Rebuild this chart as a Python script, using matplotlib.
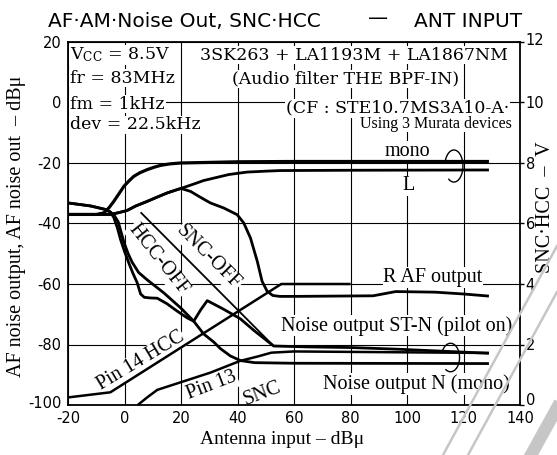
import matplotlib
matplotlib.use("Agg")
import matplotlib.pyplot as plt
from matplotlib.patches import Arc
from matplotlib.lines import Line2D
from matplotlib.transforms import ScaledTranslation

plt.rcParams['axes.unicode_minus'] = False
plt.rcParams['mathtext.fontset'] = 'dejavuserif'

# ---------------- data ----------------
x_ticks = [-20, 0, 20, 40, 60, 80, 100, 120, 140]
y_ticks = [-100, -80, -60, -40, -20, 0, 20]
v_ticks = [0, 2, 4, 6, 8, 10, 12]

# AF output, mono (dBu)
mono_x = [-20, -10, -7.3, -5.5, -3.8, -2, -0.2, 1.5, 3.3, 5.5, 8, 10.5, 12.7, 16, 19.8, 30, 40, 60, 129]
mono_y = [-37, -37, -36.5, -34.8, -32.7, -30.2, -27.7, -26, -24.4, -23.2, -22.2, -21.4, -20.8, -20.3, -20, -19.8, -19.6, -19.5, -19.5]

# AF output, L (dBu)
L_x = [-20, -8, -5, -2, 0.9, 4, 8, 11.5, 15.1, 18, 20, 25, 28, 31.6, 37, 43.4, 50, 55.2, 80, 129]
L_y = [-37, -37, -37, -36.4, -35.7, -34.2, -32.7, -31.3, -29.9, -29, -28.4, -26.8, -25.8, -25, -23.8, -23, -22.7, -22.5, -22.4, -22.3]

# R AF output (dBu)
R_x = [-20, -8, -5, -2, 0.9, 4, 8, 11.5, 15.1, 18, 20, 23.4, 27, 30.4, 35.2, 39.9, 42.2, 44.6,
       47, 48.7, 50.5, 52.5, 55, 60, 88, 92, 96, 110, 120, 129]
R_y = [-37, -37, -37, -36.4, -35.7, -34.2, -32.7, -31.3, -29.9, -29, -28.4, -29.4, -31.4, -33.2, -34.9, -37.1, -39.8, -44.8,
       -52.5, -59.1, -62.4, -63.8, -64.1, -64.1, -63.9, -63.2, -62.5, -62.7, -63.3, -64]

# Noise output ST-N (pilot on) (dBu)
stn_x = [-20, -12, -7, -5, -3.8, -2.5, -1.4, 0, 1.5, 3, 4.5, 5.7, 7, 9, 11.6, 15, 18.7, 22.2, 24.5,
         27, 29.3, 35, 41, 46, 52.8, 65, 80, 98, 129]
stn_y = [-33.2, -34.2, -35.3, -36.2, -38, -41.5, -45.3, -49.2, -53, -56.5, -59.6, -63.3, -64.4, -64.6, -64.7, -66.5, -69, -71.2, -72.3,
         -68.5, -65.5, -68.3, -71.5, -75.5, -80.5, -80.8, -81, -81.6, -82.9]

# Noise output N (mono) (dBu)
nm_x = [-20, -12, -7, -5, -3.5, -2.2, -0.2, 1.3, 2.7, 5, 8, 11, 14, 17, 20, 24.5, 28, 31.6, 34, 37.5, 41, 46, 60, 129]
nm_y = [-33.2, -34.2, -35.3, -36.2, -37.5, -39.5, -46.2, -50, -52.8, -56.2, -58.6, -60.8, -63, -65.5, -68, -72.3,
        -76.5, -79.2, -81.4, -83.8, -85.3, -86, -86.2, -86.3]

# SNC-OFF noise (dBu)
sncoff_x = [5.7, 52.8]
sncoff_y = [-36.3, -80.5]

# Pin voltages (V, right axis)
pin14_x = [-20, -5, 55.5, 80]
pin14_v = [0.25, 0.42, 4.0, 4.0]
pin13_x = [4.7, 8, 11.6, 30.4, 41, 47, 52, 60, 129]
pin13_v = [0.0, 0.25, 0.5, 1.07, 1.46, 1.6, 1.73, 1.77, 1.72]

# ---------------- figure ----------------
W, H = 557, 455
fig = plt.figure(figsize=(W / 100, H / 100), dpi=100)
ax = fig.add_axes([68 / W, (H - 405) / H, (520 - 68) / W, (405 - 42) / H])
ax.set_xlim(-20, 140)
ax.set_ylim(-100, 20)
ax.set_xticks(x_ticks)
ax.set_yticks(y_ticks)
ax.set_xticklabels([str(v) for v in x_ticks])
ax.set_yticklabels([str(v) for v in y_ticks])
ax.grid(True, color='black', lw=0.8)
ax.tick_params(axis='both', length=0, labelsize=10.5, pad=4.5)
for lbl in ax.get_xticklabels() + ax.get_yticklabels():
    lbl.set_family('DejaVu Sans')
for sp in ax.spines.values():
    sp.set_linewidth(1.3)
# the bottom-left "-100" sits a little above its line, as in the reference
ylbls = ax.get_yticklabels()
ylbls[0].set_transform(ylbls[0].get_transform() + ScaledTranslation(0, 3 / 100, fig.dpi_scale_trans))

ax2 = ax.twinx()
ax2.set_ylim(0, 12)
ax2.set_yticks(v_ticks)
ax2.set_yticklabels([str(v) for v in v_ticks])
ax2.tick_params(axis='y', direction='out', length=3, width=1, labelsize=10.5, pad=1)
for sp in ax2.spines.values():
    sp.set_visible(False)
vlbls = ax2.get_yticklabels()
vlbls[0].set_transform(vlbls[0].get_transform() + ScaledTranslation(0, 6 / 100, fig.dpi_scale_trans))
vlbls[-1].set_transform(vlbls[-1].get_transform() + ScaledTranslation(0, 3 / 100, fig.dpi_scale_trans))

lk = dict(color='black', lw=2.0, solid_joinstyle='round', solid_capstyle='butt', zorder=2.5)
ax.plot(mono_x, mono_y, **dict(lk, lw=2.3))
ax.plot(L_x, L_y, **lk)
ax.plot(R_x, R_y, **lk)
ax.plot(stn_x, stn_y, **lk)
ax.plot(nm_x, nm_y, **lk)
ax.plot(sncoff_x, sncoff_y, **dict(lk, lw=1.3))
ax2.plot(pin14_x, pin14_v, **dict(lk, lw=1.8))
ax2.plot(pin13_x, pin13_v, **dict(lk, lw=1.8))

# brackets
ax.add_patch(Arc((116.6, -21.0), 6.4, 10.6, theta1=-115, theta2=150, color='black', lw=1.0, zorder=2.6))
ax.add_patch(Arc((115.4, -84.3), 6.4, 9.4, theta1=-115, theta2=150, color='black', lw=1.0, zorder=2.6))


def lab(x, y, s, size=14.5, rot=0, family='Liberation Serif', ha='center', va='center', pad=0.6):
    ax.text(x, y, s, fontsize=size, family=family, rotation=rot, ha=ha, va=va,
            rotation_mode='anchor', zorder=2.2,
            bbox=dict(facecolor='white', edgecolor='none', pad=pad))


# condition block (upper left)
sfam = 'DejaVu Serif'
lab(-19.2, 14.2, r"V$_{\rm CC}$ = 8.5V", size=12.5, family=sfam, ha='left', va='baseline')
lab(-19.2, 6.6, "fr = 83MHz", size=12.5, family=sfam, ha='left', va='baseline')
lab(-19.2, -2.0, "fm = 1kHz", size=12.5, family=sfam, ha='left', va='baseline')
lab(-19.2, -8.9, "dev = 22.5kHz", size=12.5, family=sfam, ha='left', va='baseline')
# device block (upper right)
lab(26.9, 14.2, "3SK263 + LA1193M + LA1867NM", size=12.5, family=sfam, ha='left', va='baseline')
lab(38.2, 6.3, "(Audio filter THE BPF-IN)", size=12.5, family=sfam, ha='left', va='baseline')
lab(57.0, -3.4, "(CF : STE10.7MS3A10-A·", size=12.5, family=sfam, ha='left', va='baseline')
lab(137.3, -8.3, "Using 3 Murata devices", size=11.5, ha='right', va='baseline')

# curve labels
lab(100.0, -16.2, "mono")
lab(100.7, -27.6, "L")
lab(109.2, -57.8, "R AF output")
lab(96.5, -73.8, "Noise output ST-N (pilot on)")
lab(103.4, -93.1, "Noise output N (mono)")
lab(29.7, -51.2, "SNC-OFF", rot=-45)
lab(11.9, -51.9, "HCC-OFF", rot=-51.5)
lab(5.7, -85.5, "Pin 14 HCC", rot=31)
lab(31.0, -93.7, "Pin 13", rot=21)
lab(48.7, -96.2, "SNC", rot=21)

# title and axis labels
fig.text(48 / W, 1 - 27 / H, "AF·AM·Noise Out, SNC·HCC", fontsize=14.5, family='DejaVu Sans', ha='left', va='baseline')
fig.text(378 / W, 1 - 24 / H, "—", fontsize=14.5, family='DejaVu Sans', ha='center', va='baseline')
fig.text(522 / W, 1 - 27 / H, "ANT INPUT", fontsize=14.5, family='DejaVu Sans', ha='right', va='baseline')
fig.text(17 / W, 1 - 226 / H, "AF noise output, AF noise out  – dBμ", rotation=90, fontsize=14.5,
         family='Liberation Serif', ha='center', va='center')
fig.text(282 / W, 1 - 440 / H, "Antenna input – dBμ", fontsize=14, family='Liberation Serif', ha='center', va='center')
fig.text(546 / W, 1 - 207 / H, "SNC·HCC  –  V", rotation=90, fontsize=14.5, family='Liberation Serif',
         ha='center', va='center')

# faint diagonal watermark stripes (bottom right)
wm = '#c6c6c6'
fig.add_artist(Line2D([443 / W, 557 / W], [0, 1 - 246 / H], transform=fig.transFigure, color=wm, lw=1.8, zorder=10))
fig.add_artist(Line2D([468 / W, 557 / W], [0, 1 - 292 / H], transform=fig.transFigure, color=wm, lw=1.8, zorder=10))
fig.add_artist(Line2D([531 / W, 557 / W], [0, 1 - 408 / H], transform=fig.transFigure, color=wm, lw=9, zorder=10))

fig.savefig("out.png", dpi=100)
